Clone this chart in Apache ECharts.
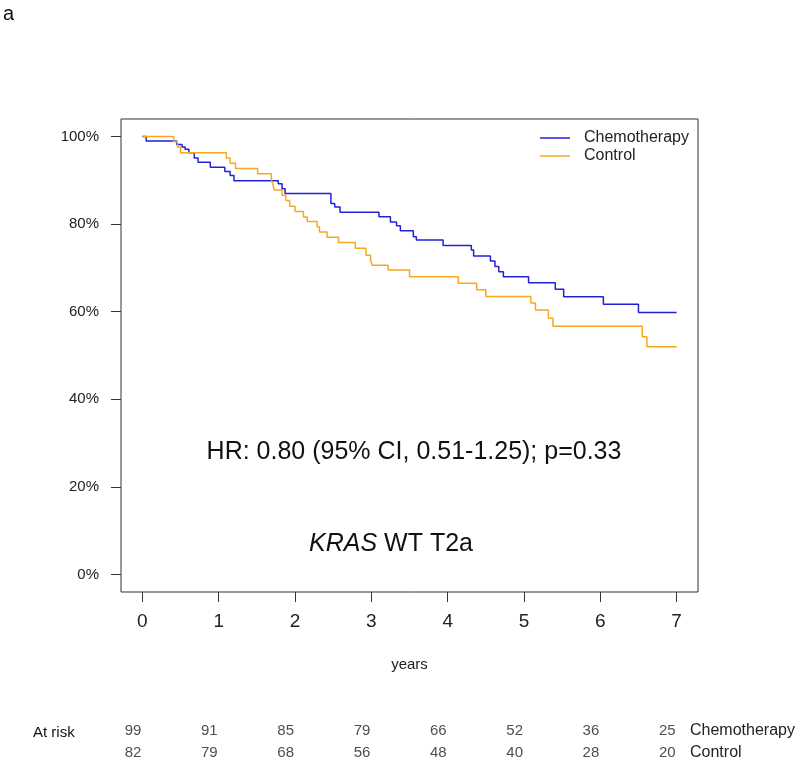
<!DOCTYPE html>
<html>
<head>
<meta charset="utf-8">
<script src="https://cdn.jsdelivr.net/npm/echarts@6/dist/echarts.min.js"></script>
<style>
html,body{margin:0;padding:0;background:#fff;}
#chart{width:800px;height:760px;}
</style>
</head>
<body>
<div id="chart"></div>
<script>
// ---- data ----
const yearTicks = [0, 1, 2, 3, 4, 5, 6, 7];
const percentTicks = [0, 20, 40, 60, 80, 100];

const chemoTime = [0,0.05,0.45,0.52,0.56,0.61,0.68,0.73,0.89,1.08,1.15,1.20,1.78,1.83,1.87,2.47,2.52,2.59,3.10,3.25,3.33,3.38,3.55,3.59,3.94,4.31,4.34,4.56,4.62,4.67,4.73,5.06,5.41,5.52,6.04,6.50,7.00];
const chemoSurv = [100,99.0,98.2,97.6,97.1,96.3,95.1,94.1,93.0,92.0,91.1,89.9,89.2,88.1,87.0,84.7,83.9,82.7,81.7,80.5,79.6,78.5,77.1,76.4,75.1,74.1,72.7,71.6,70.3,69.1,68.0,66.6,65.1,63.4,61.7,59.8,59.8];

const controlTime = [0,0.41,0.46,0.50,1.10,1.15,1.22,1.51,1.69,1.71,1.73,1.83,1.88,1.93,2.00,2.11,2.16,2.29,2.32,2.42,2.57,2.79,2.93,2.99,3.01,3.22,3.50,4.14,4.38,4.50,5.09,5.15,5.32,5.38,6.55,6.61,7.00];
const controlSurv = [100,98.8,97.6,96.3,95.1,93.9,92.7,91.5,90.2,89.0,87.8,86.6,85.4,84.1,82.9,81.6,80.6,79.4,78.2,77.0,75.8,74.5,72.9,71.8,70.6,69.5,68.0,66.5,65.0,63.5,62.0,60.4,58.5,56.7,54.3,52.0,52.0];

const groupNames = ['Chemotherapy', 'Control'];
const atRiskChemo = [99, 91, 85, 79, 66, 52, 36, 25];
const atRiskControl = [82, 79, 68, 56, 48, 40, 28, 20];

const hrText = 'HR: 0.80 (95% CI, 0.51-1.25); p=0.33';
const subgroupText = '{i|KRAS} WT T2a';

// ---- chart ----
const FONT = '"Liberation Sans", Arial, sans-serif';
const chart = echarts.init(document.getElementById('chart'), null, {renderer: 'canvas'});

const zip = (a, b) => a.map((v, i) => [v, b[i]]);
const tableData = (vals, name) => yearTicks.map((x, i) => [x, name, vals[i]]);

const tableLabel = {
  show: true,
  position: 'inside',
  align: 'right',
  offset: [-1, 0],
  formatter: p => String(p.value[2]),
  fontFamily: FONT,
  fontSize: 15,
  color: '#222'
};

chart.setOption({
  animation: false,
  backgroundColor: '#fff',
  textStyle: {fontFamily: FONT},
  grid: [
    {left: 121, top: 119, width: 577, height: 473, show: true, borderColor: '#333', borderWidth: 1,
     backgroundColor: 'transparent', containLabel: false, outerBoundsMode: 'none'},
    {left: 121, top: 720, width: 577, height: 44, containLabel: false, outerBoundsMode: 'none'}
  ],
  xAxis: [
    {
      gridIndex: 0, type: 'value', min: -0.28, max: 7.28, position: 'bottom',
      axisLine: {show: false, onZero: false}, splitLine: {show: false},
      axisTick: {show: true, inside: false, length: 10, customValues: yearTicks, lineStyle: {color: '#333', width: 1}},
      axisLabel: {customValues: yearTicks, margin: 20, fontSize: 19, color: '#222', fontFamily: FONT},
      name: 'years', nameLocation: 'middle', nameGap: 65,
      nameTextStyle: {fontSize: 15, color: '#222', fontFamily: FONT}
    },
    {
      gridIndex: 1, type: 'value', min: -0.28, max: 7.28, show: false
    }
  ],
  yAxis: [
    {
      gridIndex: 0, type: 'value', min: -4, max: 104, position: 'left',
      axisLine: {show: false, onZero: false}, splitLine: {show: false},
      axisTick: {show: true, inside: false, length: 10, customValues: percentTicks, lineStyle: {color: '#333', width: 1}},
      axisLabel: {customValues: percentTicks, margin: 22, fontSize: 15, color: '#222', fontFamily: FONT,
                  formatter: '{value}%'}
    },
    {
      gridIndex: 1, type: 'category', data: groupNames, inverse: true, position: 'right',
      axisLine: {show: false}, axisTick: {show: false}, splitLine: {show: false},
      axisLabel: {margin: -8, fontSize: 16, color: '#222', fontFamily: FONT, align: 'left'}
    }
  ],
  legend: {
    orient: 'vertical', left: 540, top: 129, padding: 0,
    icon: 'rect', itemWidth: 30, itemHeight: 1.5, itemGap: 0,
    data: groupNames,
    textStyle: {fontSize: 16, lineHeight: 18, color: '#222', fontFamily: FONT, padding: [0, 0, 0, 9]}
  },
  series: [
    {
      name: 'Chemotherapy', type: 'line', step: 'end', xAxisIndex: 0, yAxisIndex: 0,
      data: zip(chemoTime, chemoSurv), symbol: 'none', showSymbol: false,
      lineStyle: {color: '#2121D6', width: 1.5}, itemStyle: {color: '#2121D6'}, z: 3
    },
    {
      name: 'Control', type: 'line', step: 'end', xAxisIndex: 0, yAxisIndex: 0,
      data: zip(controlTime, controlSurv), symbol: 'none', showSymbol: false,
      lineStyle: {color: '#F6A823', width: 1.5}, itemStyle: {color: '#F6A823'}, z: 4
    },
    {
      name: 'atRiskChemo', type: 'scatter', xAxisIndex: 1, yAxisIndex: 1,
      data: tableData(atRiskChemo, groupNames[0]), symbolSize: 0, label: tableLabel, silent: true
    },
    {
      name: 'atRiskControl', type: 'scatter', xAxisIndex: 1, yAxisIndex: 1,
      data: tableData(atRiskControl, groupNames[1]), symbolSize: 0, label: tableLabel, silent: true
    }
  ],
  graphic: [
    {type: 'text', left: 3, top: 4, style: {text: 'a', font: '20px ' + FONT, fill: '#111'}},
    {type: 'text', x: 414, y: 452, style: {text: hrText, font: '25px ' + FONT, fill: '#111',
      textAlign: 'center', textVerticalAlign: 'middle'}},
    {type: 'text', x: 391, y: 544, style: {text: subgroupText, font: '25px ' + FONT, fill: '#111',
      textAlign: 'center', textVerticalAlign: 'middle',
      rich: {i: {fontStyle: 'italic', fontSize: 25, fontFamily: FONT, fill: '#111'}}}},
    {type: 'text', x: 33, y: 733, style: {text: 'At risk', font: '15px ' + FONT, fill: '#111',
      textVerticalAlign: 'middle'}}
  ]
});
</script>
</body>
</html>
